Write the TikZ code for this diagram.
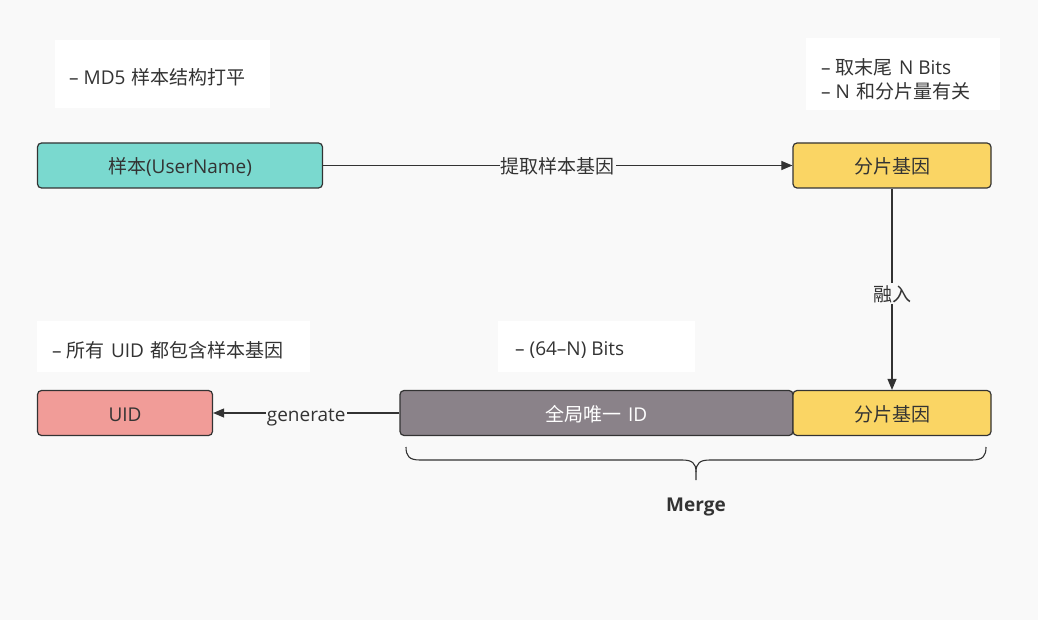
\documentclass[tikz,border=0pt]{standalone}
\usepackage{fontspec}
\setmainfont{Open Sans}
\newfontfamily\cjk{Noto Sans CJK SC}
\newcommand\gp{\hspace{1.5pt}}
\usetikzlibrary{arrows.meta}
\definecolor{bg}{HTML}{F9F9F9}
\definecolor{ink}{HTML}{333333}
\definecolor{tealbox}{HTML}{7AD9CF}
\definecolor{yellowbox}{HTML}{FAD564}
\definecolor{pinkbox}{HTML}{F19C98}
\definecolor{graybox}{HTML}{8A8289}
\tikzset{
  txt/.style={font=\fontsize{19}{24}\selectfont},
  box/.style={draw=ink, line width=1.2pt, rounded corners=4pt, inner sep=0pt, text=ink, txt, text height=18pt, text depth=1pt},
  notetext/.style={anchor=west, text=ink, txt, inner sep=0pt, align=left},
  conn/.style={draw=ink, line width=1.1pt, -{Triangle[length=11pt,width=9pt]}},
  lbl/.style={fill=bg, text=ink, inner sep=1pt, txt, text height=18pt, text depth=1pt}
}
\begin{document}
\begin{tikzpicture}[x=1pt,y=-1pt]
\fill[bg] (0,0) rectangle (1038,620);
\useasboundingbox (0,0) rectangle (1038,620);
% notes
\fill[white] (55,40) rectangle (270,108);
\node[notetext] (n1) at (69,77) {– MD5\gp{} {\cjk 样本结构打平}};
\fill[white] (806,38) rectangle (1000,110);
\node[notetext] (n2a) at (821,67) {– {\cjk 取末尾}\gp{} N Bits};
\node[notetext] (n2b) at (821,91) {– N\gp{} {\cjk 和分片量有关}};
\fill[white] (37,321) rectangle (310,372);
\node[notetext] (n3) at (52,350) {– {\cjk 所有}\gp{} UID\gp{} {\cjk 都包含样本基因}};
\fill[white] (498,321) rectangle (695,372);
\node[notetext] (n4) at (515,350) {– (64–N) Bits};
% boxes
\node[box, fill=tealbox, minimum width=285pt, minimum height=45pt] (sample) at (180,165.5) {{\cjk 样本}(UserName)};
\node[box, fill=yellowbox, minimum width=198pt, minimum height=45pt] (shardtop) at (892,165.5) {\cjk 分片基因};
\node[box, fill=pinkbox, minimum width=175pt, minimum height=45pt] (uid) at (125,413) {UID};
\node[box, fill=graybox, text=white, minimum width=393pt, minimum height=45pt] (global) at (596.5,413) {{\cjk 全局唯一}\gp{} ID};
\node[box, fill=yellowbox, minimum width=198pt, minimum height=45pt] (shardbot) at (892,413) {\cjk 分片基因};
% connectors
\draw[conn] (sample) -- node[lbl, pos=0.50] {\cjk 提取样本基因} (shardtop);
\draw[conn] (shardtop) -- node[lbl, pos=0.52] {\cjk 融入} (shardbot);
\draw[conn] (global) -- node[lbl, pos=0.50] {generate} (uid);
% brace
\draw[ink, line width=1.1pt] (406,447) .. controls (406,456) and (409,460) .. (420,460)
  -- (682,460) .. controls (692,460) and (696,463) .. (696,472) -- (696,480);
\draw[ink, line width=1.1pt] (986,447) .. controls (986,456) and (983,460) .. (972,460)
  -- (710,460) .. controls (700,460) and (696,463) .. (696,472);
\node[text=ink, font=\fontsize{19}{24}\selectfont\bfseries] (merge) at (696,507) {Merge};
\end{tikzpicture}
\end{document}
